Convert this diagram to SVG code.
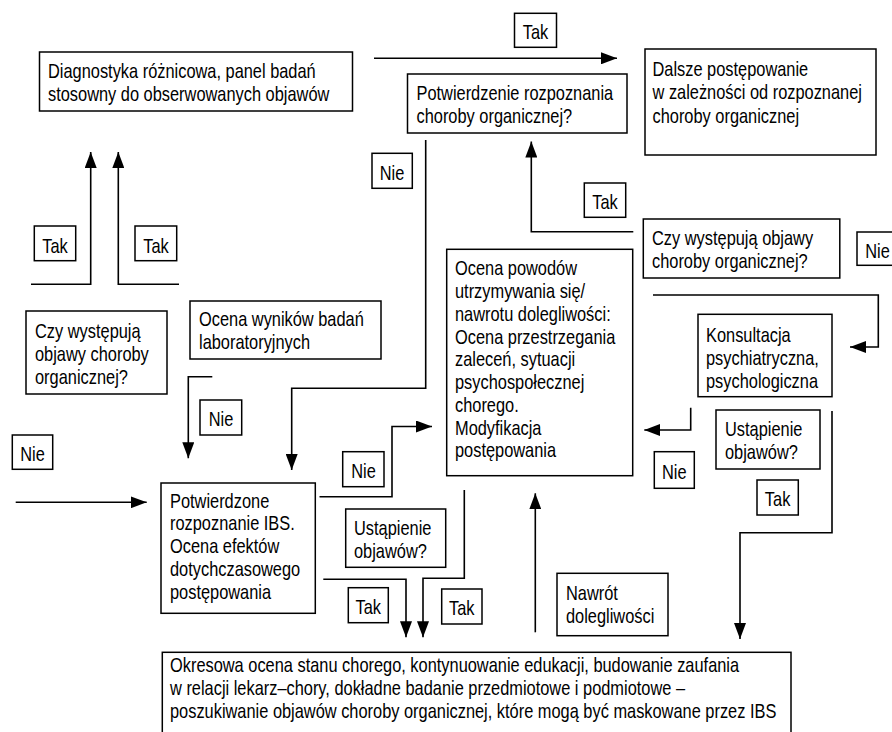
<svg xmlns="http://www.w3.org/2000/svg" width="892" height="732" viewBox="0 0 892 732">
<style>
.box{fill:#fff;stroke:#000;stroke-width:1.5}
.t{font-family:"Liberation Sans",Arial,sans-serif;font-size:20px;fill:#000}
.l{text-anchor:middle}
.c{fill:none;stroke:#000;stroke-width:1.6;stroke-linejoin:miter}
.a{marker-end:url(#arr)}
</style>
<defs>
<marker id="arr" markerUnits="userSpaceOnUse" markerWidth="16" markerHeight="12" refX="16" refY="6" orient="auto">
<path d="M0,0 L16,6 L0,12 z" fill="#000"/>
</marker>
</defs>
<rect width="892" height="732" fill="#fff"/>

<g id="connectors">
<path class="c a" d="M31,284.3 H90.7 V152"/>
<path class="c a" d="M179,284.3 H118.3 V152"/>
<path class="c a" d="M374,58.3 H617"/>
<path class="c a" d="M425.7,140 V388.3 H291.7 V470"/>
<path class="c a" d="M633.3,231.7 H531.3 V141.5"/>
<path class="c a" d="M653,295 H878.3 V347 H850"/>
<path class="c a" d="M212.3,376.7 H188.3 V458.3"/>
<path class="c a" d="M15.7,502.3 H146.7"/>
<path class="c a" d="M319.5,496.7 H392 V426.5 H432"/>
<path class="c a" d="M323.3,579.3 H406 V637.3"/>
<path class="c a" d="M464.3,490 V578.3 H423 V637.3"/>
<path class="c a" d="M535.3,632.3 V493.3"/>
<path class="c a" d="M690.7,407.7 V430 H644.3"/>
<path class="c a" d="M832,411 V532.7 H740 V639"/>
</g>

<g id="n-diagnostyka">
<rect class="box" x="39.5" y="52" width="313" height="59"/>
<text class="t" transform="translate(48 0) scale(0.82 1)"><tspan x="0" y="78">Diagnostyka różnicowa, panel badań</tspan><tspan x="0" y="101">stosowny do obserwowanych objawów</tspan></text>
</g>
<g id="n-potwierdzenie">
<rect class="box" x="407.5" y="74" width="219.5" height="59"/>
<text class="t" transform="translate(416.5 0) scale(0.82 1)"><tspan x="0" y="100.5">Potwierdzenie rozpoznania</tspan><tspan x="0" y="123.3">choroby organicznej?</tspan></text>
</g>
<g id="n-dalsze">
<rect class="box" x="645" y="49" width="231" height="106"/>
<text class="t" transform="translate(652.5 0) scale(0.82 1)"><tspan x="0" y="76">Dalsze postępowanie</tspan><tspan x="0" y="99.5">w zależności od rozpoznanej</tspan><tspan x="0" y="123">choroby organicznej</tspan></text>
</g>
<g id="n-czy-prawy">
<rect class="box" x="643.3" y="219" width="196.5" height="59"/>
<text class="t" transform="translate(652 0) scale(0.82 1)"><tspan x="0" y="245.5">Czy występują objawy</tspan><tspan x="0" y="268.3">choroby organicznej?</tspan></text>
</g>
<g id="n-czy-lewy">
<rect class="box" x="26" y="311" width="141" height="83"/>
<text class="t" transform="translate(35 0) scale(0.82 1)"><tspan x="0" y="338.5">Czy występują</tspan><tspan x="0" y="361.3">objawy choroby</tspan><tspan x="0" y="384">organicznej?</tspan></text>
</g>
<g id="n-ocena-wynikow">
<rect class="box" x="190" y="301" width="191" height="58"/>
<text class="t" transform="translate(199 0) scale(0.82 1)"><tspan x="0" y="326">Ocena wyników badań</tspan><tspan x="0" y="349">laboratoryjnych</tspan></text>
</g>
<g id="n-potwierdzone">
<rect class="box" x="161" y="483" width="154.3" height="130.3"/>
<text class="t" transform="translate(170 0) scale(0.82 1)"><tspan x="0" y="507.6">Potwierdzone</tspan><tspan x="0" y="530.5">rozpoznanie IBS.</tspan><tspan x="0" y="553.4">Ocena efektów</tspan><tspan x="0" y="576.3">dotychczasowego</tspan><tspan x="0" y="599.2">postępowania</tspan></text>
</g>
<g id="n-ustapienie-lewy">
<rect class="box" x="345.7" y="509" width="100" height="58.3"/>
<text class="t" transform="translate(354 0) scale(0.82 1)"><tspan x="0" y="535.5">Ustąpienie</tspan><tspan x="0" y="558.3">objawów?</tspan></text>
</g>
<g id="n-ocena-powodow">
<rect class="box" x="446.7" y="249.3" width="186" height="226.4"/>
<text class="t" transform="translate(455 0) scale(0.82 1)"><tspan x="0" y="275.5">Ocena powodów</tspan><tspan x="0" y="298.3">utrzymywania się/</tspan><tspan x="0" y="321">nawrotu dolegliwości:</tspan><tspan x="0" y="343.8">Ocena przestrzegania</tspan><tspan x="0" y="366.5">zaleceń, sytuacji</tspan><tspan x="0" y="389.3">psychospołecznej</tspan><tspan x="0" y="412">chorego.</tspan><tspan x="0" y="434.8">Modyfikacja</tspan><tspan x="0" y="457.5">postępowania</tspan></text>
</g>
<g id="n-konsultacja">
<rect class="box" x="698" y="314.3" width="134" height="82.4"/>
<text class="t" transform="translate(706 0) scale(0.82 1)"><tspan x="0" y="342">Konsultacja</tspan><tspan x="0" y="364.8">psychiatryczna,</tspan><tspan x="0" y="387.6">psychologiczna</tspan></text>
</g>
<g id="n-ustapienie-prawy">
<rect class="box" x="716" y="410" width="104" height="59"/>
<text class="t" transform="translate(725 0) scale(0.82 1)"><tspan x="0" y="436">Ustąpienie</tspan><tspan x="0" y="458.8">objawów?</tspan></text>
</g>
<g id="n-nawrot">
<rect class="box" x="557" y="573.3" width="111" height="62.4"/>
<text class="t" transform="translate(566 0) scale(0.82 1)"><tspan x="0" y="600">Nawrót</tspan><tspan x="0" y="622.8">dolegliwości</tspan></text>
</g>
<g id="n-okresowa">
<rect class="box" x="162.3" y="652.3" width="628.7" height="95"/>
<text class="t" transform="translate(170 0) scale(0.82 1)"><tspan x="0" y="672.5">Okresowa ocena stanu chorego, kontynuowanie edukacji, budowanie zaufania</tspan><tspan x="0" y="695.3">w relacji lekarz–chory, dokładne badanie przedmiotowe i podmiotowe –</tspan><tspan x="0" y="718">poszukiwanie objawów choroby organicznej, które mogą być maskowane przez IBS</tspan></text>
</g>

<g id="labels">
<g id="lbl-tak-1"><rect class="box" x="514.5" y="13.3" width="42" height="34"/><text class="t l" transform="translate(535.5 0) scale(0.82 1)" x="0" y="39">Tak</text></g>
<g id="lbl-nie-1"><rect class="box" x="372" y="153.3" width="40.3" height="35"/><text class="t l" transform="translate(392 0) scale(0.82 1)" x="0" y="180">Nie</text></g>
<g id="lbl-tak-2"><rect class="box" x="584.3" y="183" width="41.4" height="34.3"/><text class="t l" transform="translate(605 0) scale(0.82 1)" x="0" y="209">Tak</text></g>
<g id="lbl-nie-2"><rect class="box" x="857" y="232" width="41" height="33.3"/><text class="t l" transform="translate(877.5 0) scale(0.82 1)" x="0" y="258">Nie</text></g>
<g id="lbl-tak-3"><rect class="box" x="34.3" y="226" width="41.4" height="34.7"/><text class="t l" transform="translate(55 0) scale(0.82 1)" x="0" y="253">Tak</text></g>
<g id="lbl-tak-4"><rect class="box" x="135" y="226" width="41.7" height="34.7"/><text class="t l" transform="translate(156 0) scale(0.82 1)" x="0" y="253">Tak</text></g>
<g id="lbl-nie-3"><rect class="box" x="200" y="400" width="41.7" height="35"/><text class="t l" transform="translate(221 0) scale(0.82 1)" x="0" y="426.5">Nie</text></g>
<g id="lbl-nie-4"><rect class="box" x="12.3" y="435" width="40.4" height="34.3"/><text class="t l" transform="translate(32.5 0) scale(0.82 1)" x="0" y="461.5">Nie</text></g>
<g id="lbl-nie-5"><rect class="box" x="342.7" y="451.7" width="41.3" height="35"/><text class="t l" transform="translate(363.5 0) scale(0.82 1)" x="0" y="478.5">Nie</text></g>
<g id="lbl-nie-6"><rect class="box" x="654.3" y="451.7" width="40" height="36.6"/><text class="t l" transform="translate(674.3 0) scale(0.82 1)" x="0" y="479">Nie</text></g>
<g id="lbl-tak-5"><rect class="box" x="757" y="480" width="41.3" height="35"/><text class="t l" transform="translate(777.6 0) scale(0.82 1)" x="0" y="506.5">Tak</text></g>
<g id="lbl-tak-6"><rect class="box" x="348.3" y="587.7" width="40" height="35"/><text class="t l" transform="translate(368.3 0) scale(0.82 1)" x="0" y="614.5">Tak</text></g>
<g id="lbl-tak-7"><rect class="box" x="441.7" y="589" width="40.3" height="35"/><text class="t l" transform="translate(461.8 0) scale(0.82 1)" x="0" y="615.5">Tak</text></g>
</g>
</svg>
